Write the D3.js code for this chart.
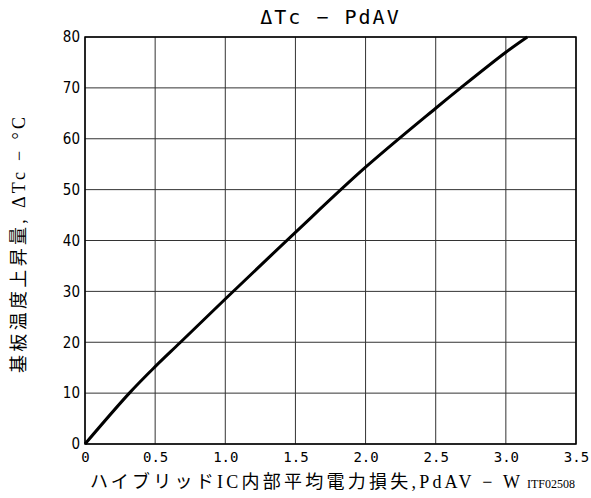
<!DOCTYPE html>
<html lang="ja">
<head>
<meta charset="UTF-8" />
<title>ΔTc - PdAV</title>
<script src="https://cdn.jsdelivr.net/npm/d3@7"></script>
<style>
  body { margin: 0; background: #fff; }
  .grid line { stroke: #333; stroke-width: 1; }
</style>
</head>
<body>
<script>
const WIDTH = 591, HEIGHT = 498;
const LEFT = 85, RIGHT = 576, TOP = 37, BOTTOM = 444;

// curve (PdAV in W, ΔTc in °C)
const pdav = [0, 0.316, 0.5, 0.677, 1.0, 1.5, 2.0, 2.5, 2.678, 3.0, 3.153];
const dtc  = [0, 10, 15.2, 19.9, 28.5, 41.6, 54.4, 66.0, 70, 77.0, 80];

const xTicks = [0, 0.5, 1.0, 1.5, 2.0, 2.5, 3.0, 3.5];
const yTicks = [0, 10, 20, 30, 40, 50, 60, 70, 80];

const svg = d3.select("body").append("svg")
    .attr("width", WIDTH)
    .attr("height", HEIGHT);

const x = d3.scaleLinear().domain([0, 3.5]).range([LEFT, RIGHT]);
const y = d3.scaleLinear().domain([0, 80]).range([BOTTOM, TOP]);

// grid
const grid = svg.append("g").attr("class", "grid");
grid.selectAll(".vx").data(xTicks).enter().append("line")
    .attr("x1", d => x(d)).attr("x2", d => x(d))
    .attr("y1", TOP).attr("y2", BOTTOM);
grid.selectAll(".hy").data(yTicks).enter().append("line")
    .attr("x1", LEFT).attr("x2", RIGHT)
    .attr("y1", d => y(d)).attr("y2", d => y(d));

svg.append("rect")
    .attr("x", LEFT).attr("y", TOP)
    .attr("width", RIGHT - LEFT).attr("height", BOTTOM - TOP)
    .attr("fill", "none").attr("stroke", "#000").attr("stroke-width", 1.5);

// x ticks
svg.append("g")
    .attr("transform", `translate(0,${BOTTOM})`)
    .call(d3.axisBottom(x).tickValues(xTicks).tickSize(0).tickPadding(8)
        .tickFormat(d => d === 0 ? "0" : d3.format(".1f")(d)))
    .call(g => g.select(".domain").remove())
    .call(g => g.selectAll("text")
        .attr("font-family", "'DejaVu Sans Mono', monospace")
        .attr("font-size", 14).attr("fill", "#000"));

// y ticks
svg.append("g")
    .attr("transform", `translate(${LEFT},0)`)
    .call(d3.axisLeft(y).tickValues(yTicks).tickSize(0).tickPadding(5))
    .call(g => g.select(".domain").remove())
    .call(g => g.selectAll("text")
        .attr("font-family", "'Liberation Sans Narrow', 'DejaVu Sans Condensed', sans-serif")
        .attr("font-size", 15).attr("fill", "#000"));

// curve
const line = d3.line()
    .x((d, i) => x(pdav[i]))
    .y(d => y(d))
    .curve(d3.curveCatmullRom);
svg.append("path")
    .datum(dtc)
    .attr("fill", "none")
    .attr("stroke", "#000")
    .attr("stroke-width", 3)
    .attr("d", line);

// title
svg.append("text")
    .attr("x", (LEFT + RIGHT) / 2).attr("y", 24)
    .attr("text-anchor", "middle")
    .attr("font-family", "'DejaVu Sans Mono', monospace")
    .attr("font-size", 20)
    .attr("letter-spacing", 2)
    .text("ΔTc − PdAV");

// axis labels
svg.append("text")
    .attr("x", 90).attr("y", 488)
    .attr("font-family", "'Liberation Serif', 'Noto Sans CJK JP', serif")
    .attr("font-size", 18)
    .attr("textLength", 430).attr("lengthAdjust", "spacing")
    .text("ハイブリッドIC内部平均電力損失,PdAV − W");
svg.append("text")
    .attr("x", 575).attr("y", 488)
    .attr("text-anchor", "end")
    .attr("font-family", "'Liberation Serif', serif")
    .attr("font-size", 12)
    .text("ITF02508");
svg.append("text")
    .attr("transform", "translate(25,245) rotate(-90)")
    .attr("text-anchor", "middle")
    .attr("font-family", "'Liberation Serif', 'Noto Sans CJK JP', serif")
    .attr("font-size", 18)
    .attr("textLength", 256).attr("lengthAdjust", "spacing")
    .text("基板温度上昇量, ΔTc − °C");
</script>
</body>
</html>
